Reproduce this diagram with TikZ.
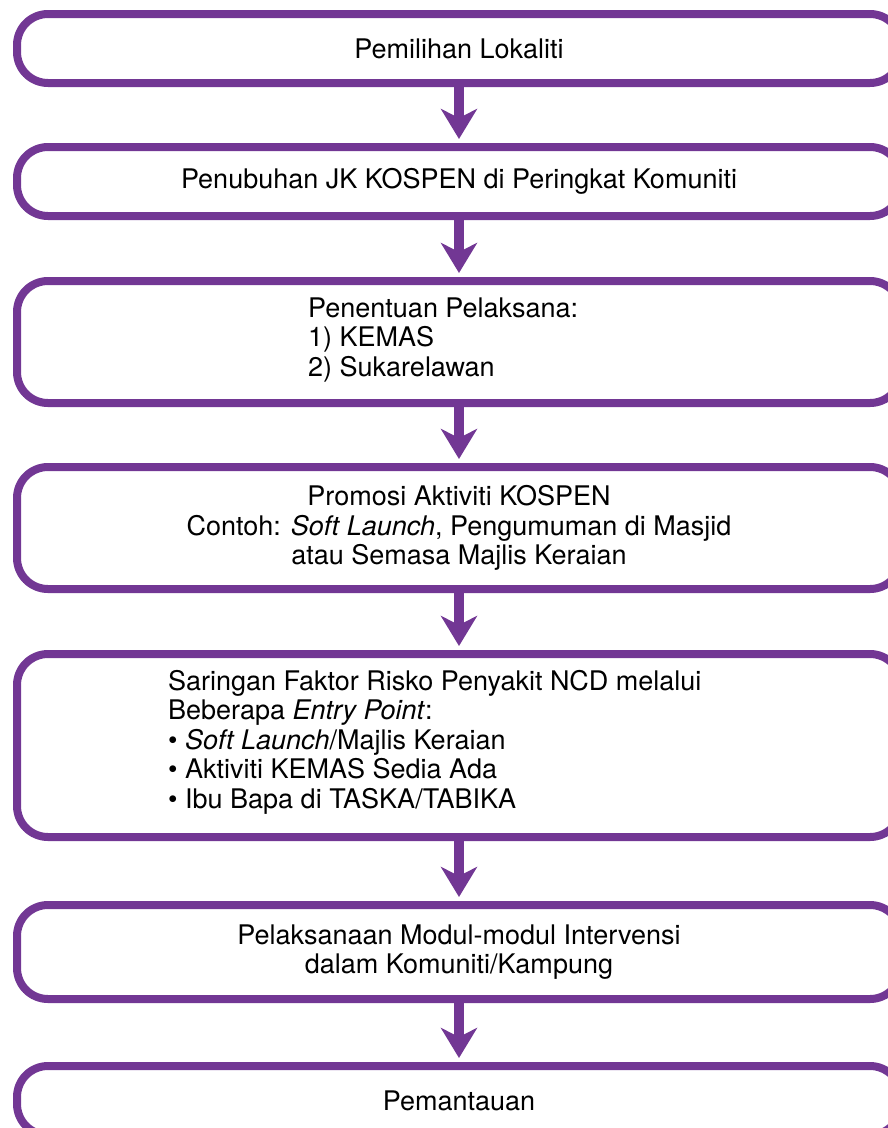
\documentclass[tikz,border=0pt]{standalone}
\usepackage{fontspec}
\setmainfont{TeX Gyre Heros}
\usetikzlibrary{arrows.meta}

\definecolor{kospen}{RGB}{114,55,148}

\begin{document}
\begin{tikzpicture}[x=1pt,y=-1pt,
   langkah/.style={draw=kospen,line width=8pt,rounded corners=31pt,
      minimum width=884pt,inner sep=0pt,font=\fontsize{27}{29.5}\selectfont,align=center},
   teks/.style={inner sep=0pt,font=\fontsize{27}{29.5}\selectfont,align=left},
   anak/.style={draw=kospen,line width=10pt,
      -{Stealth[length=30pt,width=36pt,inset=9pt]}}]
\useasboundingbox (0,0) rectangle (888,1128);

\node[langkah,minimum height=69pt] (pilih) at (459,48.5) {Pemilihan Lokaliti};
\node[langkah,minimum height=69pt] (jk) at (459,181.5) {Penubuhan JK KOSPEN di Peringkat Komuniti};
\node[langkah,minimum height=122pt] (tentu) at (459,342) {};
\node[teks,anchor=west] (tentuteks) at (308,340) {Penentuan Pelaksana:\\1) KEMAS\\2) Sukarelawan};
\node[langkah,minimum height=122pt] (promosi) at (459,528) {Promosi Aktiviti KOSPEN\\
   Contoh: \textit{Soft Launch}, Pengumuman di Masjid\\atau Semasa Majlis Keraian};
\node[langkah,minimum height=183pt] (saring) at (459,745.5) {};
\node[teks,anchor=west] (saringteks) at (168,742) {Saringan Faktor Risko Penyakit NCD melalui\\
   Beberapa \textit{Entry Point}:\\
   \textbullet\ \textit{Soft Launch}/Majlis Keraian\\
   \textbullet\ Aktiviti KEMAS Sedia Ada\\
   \textbullet\ Ibu Bapa di TASKA/TABIKA};
\node[langkah,minimum height=94pt] (modul) at (459,952) {Pelaksanaan Modul-modul Intervensi\\dalam Komuniti/Kampung};
\node[langkah,minimum height=69pt] (pantau) at (459,1100.5) {Pemantauan};

\draw[anak] (pilih.south) -- ([yshift=4pt]jk.north);
\draw[anak] (jk.south) -- ([yshift=4pt]tentu.north);
\draw[anak] (tentu.south) -- ([yshift=4pt]promosi.north);
\draw[anak] (promosi.south) -- ([yshift=4pt]saring.north);
\draw[anak] (saring.south) -- ([yshift=4pt]modul.north);
\draw[anak] (modul.south) -- ([yshift=4pt]pantau.north);
\end{tikzpicture}
\end{document}
